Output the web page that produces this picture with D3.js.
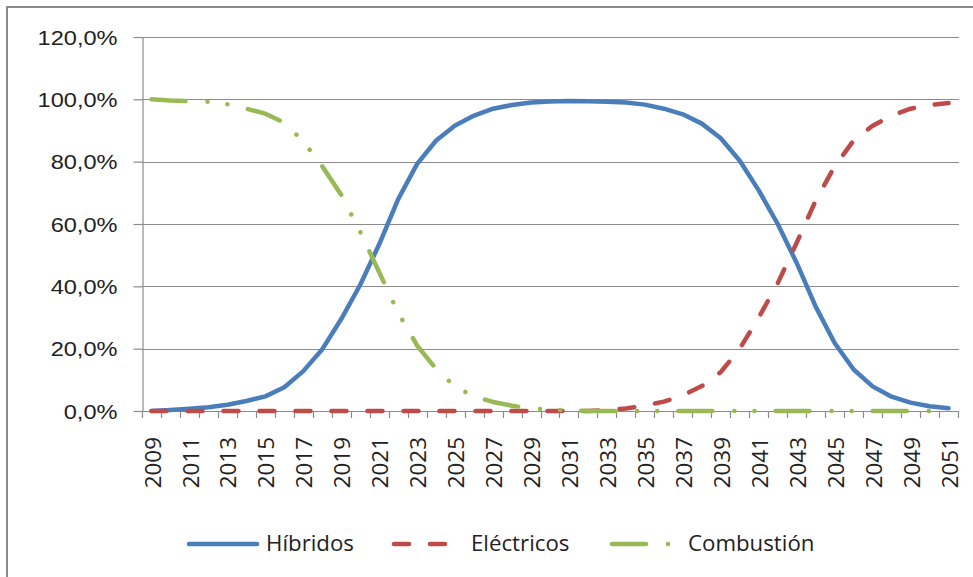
<!DOCTYPE html>
<html>
<head>
<meta charset="utf-8">
<script src="https://cdn.jsdelivr.net/npm/d3@7"></script>
<style>
  html, body { margin: 0; padding: 0; background: #fff; overflow: hidden; }
  svg { display: block; font-family: "Open Sans", "Noto Sans", sans-serif; }
</style>
</head>
<body>
<div id="chart"></div>
<script>
const years = [2009, 2010, 2011, 2012, 2013, 2014, 2015, 2016, 2017, 2018, 2019,
  2020, 2021, 2022, 2023, 2024, 2025, 2026, 2027, 2028, 2029, 2030,
  2031, 2032, 2033, 2034, 2035, 2036, 2037, 2038, 2039, 2040,
  2041, 2042, 2043, 2044, 2045, 2046, 2047, 2048, 2049, 2050, 2051];

const hibridos = [0, 0.3, 0.7, 1.2, 2.0, 3.2, 4.7, 7.6, 12.8, 19.8, 29.5,
  40.5, 53.5, 68.0, 79.3, 86.8, 91.6, 94.8, 97.0, 98.2, 99.0, 99.3,
  99.5, 99.4, 99.2, 99.0, 98.3, 97.0, 95.2, 92.2, 87.5, 80.3,
  70.8, 60.0, 47.5, 33.5, 21.8, 13.3, 7.9, 4.6, 2.7, 1.5, 0.9];

const electricos = [0, 0, 0, 0, 0, 0, 0, 0, 0, 0, 0,
  0, 0, 0, 0, 0, 0, 0, 0, 0, 0, 0,
  0, 0, 0.3, 0.8, 1.7, 3.0, 5.0, 8.0, 12.5, 20.0,
  30.0, 41.0, 54.0, 67.5, 78.5, 86.8, 91.5, 94.8, 97.0, 98.2, 98.8];

const combustion = [100, 99.6, 99.4, 99.2, 98.4, 97.0, 95.4, 92.5, 86.5, 78.5, 69.3,
  57.5, 44.5, 31.5, 21.0, 13.5, 7.8, 4.7, 2.9, 1.7, 0.8, 0.4,
  0.2, 0, 0, 0, 0, 0, 0, 0, 0, 0,
  0, 0, 0, 0, 0, 0, 0, 0, 0, 0, 0];

const yTicks = [0, 20, 40, 60, 80, 100, 120];
const yTickLabels = ["0,0%", "20,0%", "40,0%", "60,0%", "80,0%", "100,0%", "120,0%"];
const seriesNames = ["Híbridos", "Eléctricos", "Combustión"];

const W = 973, H = 577;
const plot = { left: 142, right: 958, top: 37, bottom: 411 };

const svg = d3.select("#chart").append("svg")
  .attr("width", W).attr("height", H);

// outer chart frame (runs off the right and bottom edges)
svg.append("rect")
  .attr("x", 7).attr("y", 7)
  .attr("width", 1100).attr("height", 700)
  .attr("fill", "none").attr("stroke", "#8a8a8a").attr("stroke-width", 2);

const x = d3.scaleBand().domain(years).range([plot.left, plot.right]).padding(0);
const cx = yr => x(yr) + x.bandwidth() / 2;
const y = d3.scaleLinear().domain([0, 120]).range([plot.bottom, plot.top]);

const grid = "#8c8c8c";

// gridlines
svg.append("g").selectAll("line")
  .data(yTicks.filter(v => v > 0))
  .join("line")
  .attr("x1", plot.left).attr("x2", plot.right + 1)
  .attr("y1", d => Math.round(y(d)) + 0.5).attr("y2", d => Math.round(y(d)) + 0.5)
  .attr("stroke", grid).attr("stroke-width", 1.2);

// y axis
const yAxis = svg.append("g")
  .attr("transform", `translate(${plot.left + 0.5},0)`)
  .call(d3.axisLeft(y).tickValues(yTicks).tickSize(9).tickSizeOuter(0)
    .tickFormat((d, i) => yTickLabels[i]));
yAxis.select(".domain").attr("stroke", grid).attr("stroke-width", 1.2);
yAxis.selectAll(".tick line").attr("stroke", grid).attr("stroke-width", 1.2);
yAxis.selectAll(".tick text").remove();
yAxis.selectAll(".tick").append("g")
  .attr("transform", "translate(-25,0) scale(1.21,1)")
  .append("text")
  .attr("text-anchor", "end")
  .attr("dy", "0.36em")
  .attr("fill", "#222")
  .attr("font-size", 19.5)
  .text((d, i) => yTickLabels[i]);

// x axis line and ticks between categories
const xAxisG = svg.append("g");
xAxisG.append("line")
  .attr("x1", plot.left).attr("x2", plot.right + 1)
  .attr("y1", plot.bottom + 0.5).attr("y2", plot.bottom + 0.5)
  .attr("stroke", grid).attr("stroke-width", 1.2);
xAxisG.selectAll(".xt")
  .data(years.map(yr => x(yr)).concat([plot.right]))
  .join("line")
  .attr("class", "xt")
  .attr("x1", d => Math.round(d) + 0.5).attr("x2", d => Math.round(d) + 0.5)
  .attr("y1", plot.bottom).attr("y2", plot.bottom + 7)
  .attr("stroke", grid).attr("stroke-width", 1.2);

xAxisG.selectAll(".xl")
  .data(years.filter((yr, i) => i % 2 === 0))
  .join("g")
  .attr("class", "xl")
  .attr("transform", d => `translate(${cx(d) + 1},437) scale(1.15,1) rotate(-90) scale(1.15,1)`)
  .append("text")
  .attr("text-anchor", "end")
  .attr("dy", "0.36em")
  .attr("fill", "#222")
  .attr("font-size", 19.5)
  .text(d => d);

// series
const line = d3.line()
  .x((d, i) => cx(years[i]))
  .y(d => y(d));

const styles = [
  { name: seriesNames[0], data: hibridos, color: "#4a7ebb", dash: null },
  { name: seriesNames[1], data: electricos, color: "#be4b48", dash: "15,21" },
  { name: seriesNames[2], data: combustion, color: "#98b954", dash: "34,22,0.1,20,0.1,21" }
];

// draw order: Combustión, Eléctricos, Híbridos on top? Excel draws in series order
styles.forEach(s => {
  svg.append("path")
    .datum(s.data)
    .attr("fill", "none")
    .attr("stroke", s.color)
    .attr("stroke-width", 4.5)
    .attr("stroke-linecap", "round")
    .attr("stroke-linejoin", "round")
    .attr("stroke-dasharray", s.dash)
    .attr("d", line);
});

// legend
const legendItems = [
  { s: styles[0], x1: 189, x2: 257, tx: 266 },
  { s: styles[1], x1: 394, x2: 448, tx: 471 },
  { s: styles[2], x1: 612, x2: 672, tx: 688 }
];
const ly = 544;
const legend = svg.append("g");
legendItems.forEach(it => {
  legend.append("line")
    .attr("x1", it.x1).attr("x2", it.x2)
    .attr("y1", ly).attr("y2", ly)
    .attr("stroke", it.s.color)
    .attr("stroke-width", 4.5)
    .attr("stroke-linecap", "round")
    .attr("stroke-dasharray", it.s.dash);
  legend.append("g")
    .attr("transform", `translate(${it.tx},551) scale(1.06,1)`)
    .append("text")
    .attr("fill", "#222")
    .attr("font-size", 21)
    .text(it.s.name);
});
</script>
</body>
</html>
